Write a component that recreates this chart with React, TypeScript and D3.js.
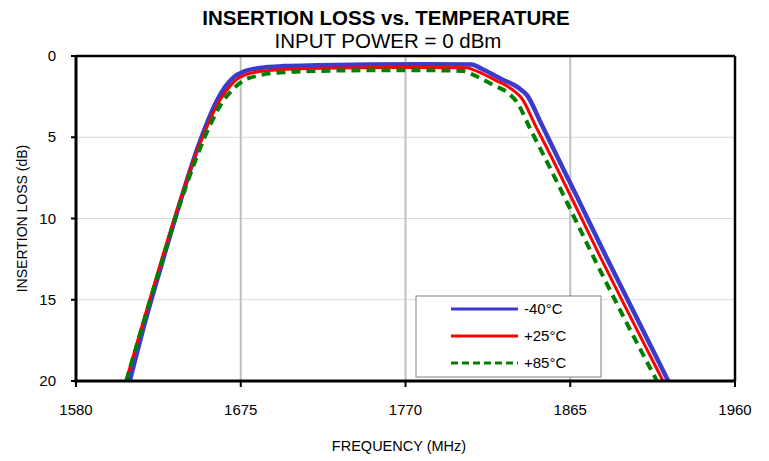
import React from "react";
import * as d3 from "d3";

const xTicks = [1580, 1675, 1770, 1865, 1960];
const yTicks = [0, 5, 10, 15, 20];

const seriesNames = ["-40°C", "+25°C", "+85°C"];

const freqM40 = [1611, 1620, 1630, 1640, 1650, 1656, 1661, 1666, 1671, 1677, 1685, 1700, 1720, 1750, 1780, 1808, 1815, 1825, 1835, 1840, 1848, 1858, 1870, 1885, 1900, 1921.5];
const lossM40 = [20, 16.3, 12.6, 9.0, 5.7, 4.0, 2.8, 1.9, 1.3, 0.95, 0.75, 0.62, 0.57, 0.52, 0.5, 0.52, 0.85, 1.4, 1.95, 2.4, 4.1, 6.3, 8.9, 12.2, 15.4, 20];

const freqP25 = [1608.8, 1620, 1630, 1640, 1650, 1657, 1662, 1667, 1672, 1678, 1690, 1710, 1740, 1780, 1805, 1812, 1822, 1832, 1837, 1845, 1855, 1867, 1882, 1898, 1918.5];
const lossP25 = [20, 15.9, 12.3, 8.9, 5.8, 4.0, 2.9, 2.1, 1.5, 1.15, 0.9, 0.78, 0.72, 0.7, 0.72, 0.98, 1.5, 2.1, 2.6, 4.3, 6.4, 9.0, 12.3, 15.7, 20];

const freqP85 = [1609, 1620, 1630, 1640, 1650, 1658, 1664, 1670, 1676, 1685, 1700, 1720, 1750, 1780, 1803, 1810, 1820, 1830, 1834, 1842, 1852, 1864, 1879, 1895, 1915];
const lossP85 = [20, 16.0, 12.5, 9.1, 6.1, 4.1, 2.9, 2.1, 1.55, 1.2, 1.0, 0.92, 0.88, 0.88, 0.92, 1.2, 1.75, 2.35, 2.8, 4.5, 6.6, 9.2, 12.5, 15.9, 20];

const W = 769;
const H = 461;
const L = 76;
const R = 735;
const T = 56;
const B = 381;

const FONT = "'Liberation Sans', Arial, sans-serif";

export default function App() {
  const x = d3.scaleLinear().domain([1580, 1960]).range([L, R]);
  const y = d3.scaleLinear().domain([0, 20]).range([T, B]);

  const line = d3
    .line<[number, number]>()
    .x((d) => x(d[0]))
    .y((d) => y(d[1]))
    .curve(d3.curveMonotoneX);

  const zip = (f: number[], v: number[]) => f.map((ff, i) => [ff, v[i]] as [number, number]);

  const series = [
    { name: seriesNames[0], data: zip(freqM40, lossM40), color: "#3a3acc", width: 4.5, dash: undefined as string | undefined },
    { name: seriesNames[1], data: zip(freqP25, lossP25), color: "#ff0000", width: 3, dash: undefined as string | undefined },
    { name: seriesNames[2], data: zip(freqP85, lossP85), color: "#008000", width: 4, dash: "9,6" },
  ];

  const legendX = 416;
  const legendY = 296;
  const legendW = 185;
  const legendH = 81;

  return (
    <svg width={W} height={H} style={{ position: "absolute", left: 0, top: 0, background: "#fff" }} fontFamily={FONT}>
      <rect x={0} y={0} width={W} height={H} fill="#fff" />
      <text x={386} y={25} textAnchor="middle" fontSize={20.5} fontWeight="bold" fill="#000">
        INSERTION LOSS vs. TEMPERATURE
      </text>
      <text x={388} y={48} textAnchor="middle" fontSize={20.5} fill="#000">
        INPUT POWER = 0 dBm
      </text>

      {/* horizontal grid */}
      {yTicks.slice(1, -1).map((t) => (
        <line key={"hg" + t} x1={L} x2={R} y1={y(t)} y2={y(t)} stroke="#d9d9d9" strokeWidth={1} />
      ))}
      {/* vertical grid */}
      {xTicks.slice(1, -1).map((t) => (
        <line key={"vg" + t} x1={x(t)} x2={x(t)} y1={T} y2={B} stroke="#c0c0c0" strokeWidth={2} />
      ))}

      {/* series */}
      <g>
        {series.map((s) => (
          <path
            key={s.name}
            d={line(s.data) || ""}
            fill="none"
            stroke={s.color}
            strokeWidth={s.width}
            strokeDasharray={s.dash}
            strokeLinejoin="round"
          />
        ))}
      </g>

      {/* frame */}
      <line x1={L} x2={R} y1={T} y2={T} stroke="#000" strokeWidth={2.5} />
      <line x1={R} x2={R} y1={T} y2={B} stroke="#000" strokeWidth={2.5} />
      <line x1={L} x2={L} y1={T - 1} y2={B + 1.5} stroke="#000" strokeWidth={3} />
      <line x1={L - 1.5} x2={R + 1} y1={B} y2={B} stroke="#000" strokeWidth={3} />

      {/* y ticks */}
      {yTicks.map((t) => (
        <g key={"yt" + t}>
          <line x1={L - 5} x2={L} y1={y(t)} y2={y(t)} stroke="#000" strokeWidth={2} />
          <text x={56} y={y(t) + 5} textAnchor="end" fontSize={15} fill="#000">
            {t}
          </text>
        </g>
      ))}
      {/* x ticks */}
      {xTicks.map((t) => (
        <g key={"xt" + t}>
          <line x1={x(t)} x2={x(t)} y1={B} y2={B + 6} stroke="#000" strokeWidth={2} />
          <text x={x(t)} y={415} textAnchor="middle" fontSize={15} fill="#000">
            {t}
          </text>
        </g>
      ))}

      <text x={399} y={451} textAnchor="middle" fontSize={14.5} fill="#000">
        FREQUENCY (MHz)
      </text>
      <text transform={`translate(27,${(T + B) / 2}) rotate(-90)`} textAnchor="middle" fontSize={14} fill="#000">
        INSERTION LOSS (dB)
      </text>

      {/* legend */}
      <rect x={legendX} y={legendY} width={legendW} height={legendH} fill="#fff" stroke="#808080" strokeWidth={1} />
      {series.map((s, i) => {
        const ly = 309 + i * 27;
        return (
          <g key={"lg" + s.name}>
            <line x1={451} x2={518} y1={ly} y2={ly} stroke={s.color} strokeWidth={3} strokeDasharray={s.dash ? "7,4" : undefined} />
            <text x={524} y={ly + 5} fontSize={15} fill="#000">
              {s.name}
            </text>
          </g>
        );
      })}
    </svg>
  );
}
